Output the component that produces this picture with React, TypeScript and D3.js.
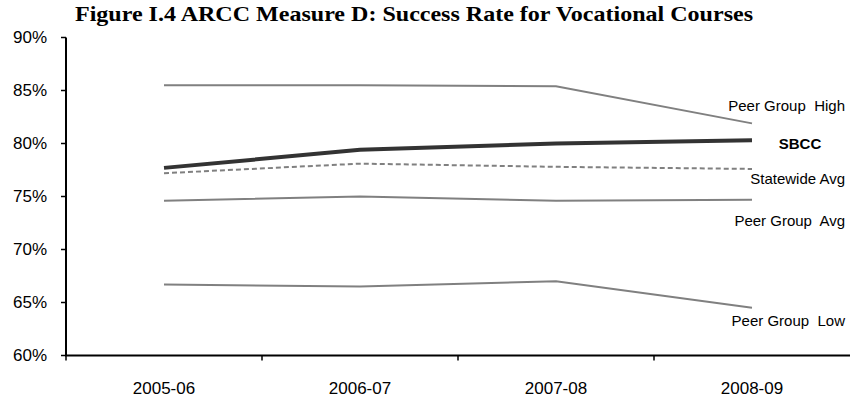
import React from "react";
import * as d3 from "d3";

const categories = ["2005-06", "2006-07", "2007-08", "2008-09"];
const peerHigh = [85.5, 85.5, 85.4, 81.9];
const sbcc = [77.7, 79.4, 80.0, 80.3];
const statewide = [77.2, 78.1, 77.8, 77.6];
const peerAvg = [74.6, 75.0, 74.6, 74.7];
const peerLow = [66.7, 66.5, 67.0, 64.5];
const yTicks = [60, 65, 70, 75, 80, 85, 90];
const title = "Figure I.4 ARCC Measure D: Success Rate for Vocational Courses";

type S = { name: string; values: number[]; color: string; width: number; dash?: string; bold?: boolean; dy: number; anchor: string; lx: number };

const series: S[] = [
  { name: "Peer Group  High", values: peerHigh, color: "#808080", width: 2, dy: -18, anchor: "end", lx: 845 },
  { name: "SBCC", values: sbcc, color: "#333333", width: 4, bold: true, dy: 3, anchor: "middle", lx: 800 },
  { name: "Statewide Avg", values: statewide, color: "#808080", width: 2, dash: "5,3", dy: 10, anchor: "end", lx: 845 },
  { name: "Peer Group  Avg", values: peerAvg, color: "#808080", width: 2, dy: 21, anchor: "end", lx: 845 },
  { name: "Peer Group  Low", values: peerLow, color: "#808080", width: 2, dy: 13, anchor: "end", lx: 845 },
];

export default function App() {
  const W = 850, H = 402;
  const x0 = 66, x1 = 850, yTop = 37.5, yBot = 355.5;
  const x = d3.scaleBand<string>().domain(categories).range([x0, x1]).padding(0);
  const y = d3.scaleLinear().domain([60, 90]).range([yBot, yTop]);
  const cx = (c: string) => (x(c) as number) + x.bandwidth() / 2;
  const line = d3.line<number>().x((_, i) => cx(categories[i])).y((v) => y(v));
  const sans = "Arial, 'Liberation Sans', sans-serif";

  return (
    <svg width={W} height={H} style={{ position: "absolute", left: 0, top: 0, background: "#fff" }}>
      <text
        x={414}
        y={21}
        textAnchor="middle"
        fontFamily="'Times New Roman', 'Liberation Serif', serif"
        fontWeight="bold"
        fontSize={21}
        textLength={678}
        lengthAdjust="spacingAndGlyphs"
        fill="#000"
      >
        {title}
      </text>
      {yTicks.map((t) => (
        <g key={t}>
          <line x1={x0 - 5} x2={x0} y1={y(t)} y2={y(t)} stroke="#000" strokeWidth={1.5} />
          <text x={47} y={y(t)} dy="0.35em" textAnchor="end" fontFamily={sans} fontSize={17} fill="#000">
            {t}%
          </text>
        </g>
      ))}
      {categories.map((c) => (
        <g key={c}>
          <line x1={x(c) as number} x2={x(c) as number} y1={yBot} y2={yBot + 5} stroke="#000" strokeWidth={1.5} />
          <text x={cx(c)} y={388} dy="0.35em" textAnchor="middle" fontFamily={sans} fontSize={17} fill="#000">
            {c}
          </text>
        </g>
      ))}
      <line x1={x0} x2={x0} y1={yTop} y2={yBot} stroke="#000" strokeWidth={2} />
      <line x1={x0 - 1} x2={x1} y1={yBot} y2={yBot} stroke="#000" strokeWidth={2} />
      {series.map((s) => (
        <g key={s.name}>
          <path d={line(s.values) || ""} fill="none" stroke={s.color} strokeWidth={s.width} strokeDasharray={s.dash} />
          <text
            x={s.lx}
            y={y(s.values[s.values.length - 1]) + s.dy}
            dy="0.35em"
            textAnchor={s.anchor}
            fontFamily={sans}
            fontSize={15}
            fontWeight={s.bold ? "bold" : "normal"}
            fill="#000"
            style={{ whiteSpace: "pre" }}
          >
            {s.name}
          </text>
        </g>
      ))}
    </svg>
  );
}
